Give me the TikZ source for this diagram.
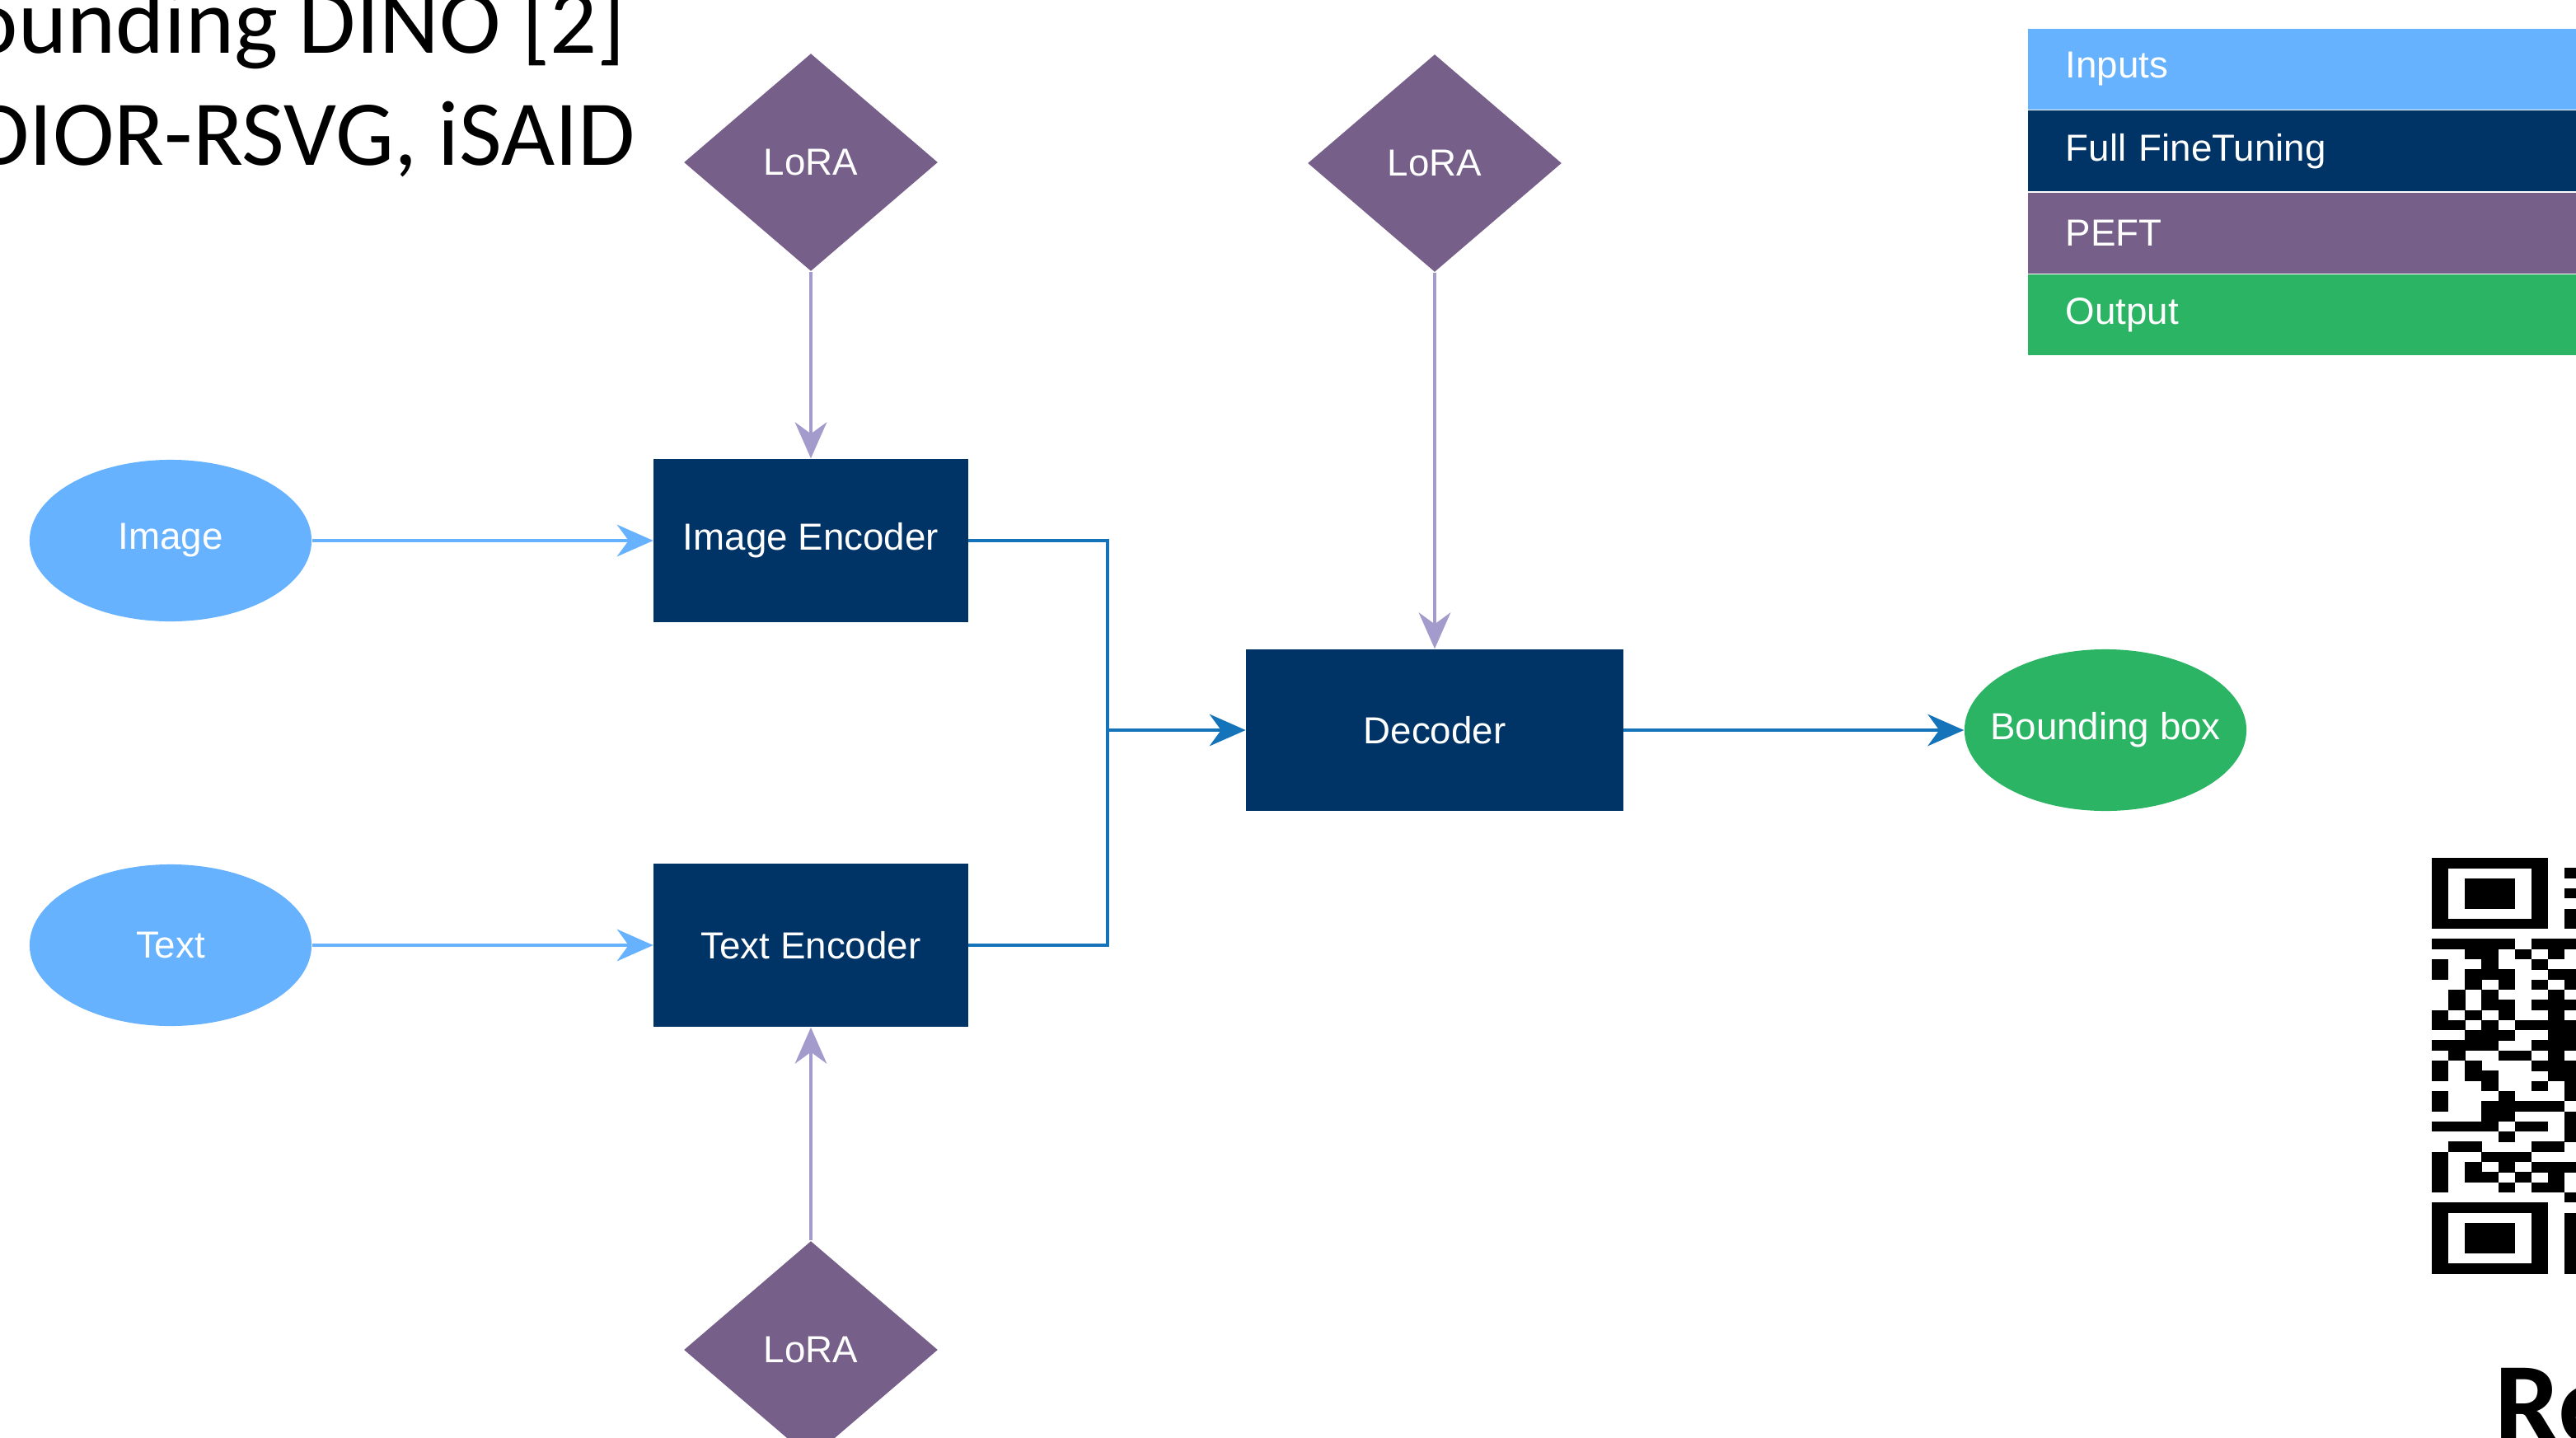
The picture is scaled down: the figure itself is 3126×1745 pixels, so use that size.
\documentclass[tikz,border=0pt]{standalone}
\usepackage{fontspec}
\setmainfont{Carlito}
\newfontfamily\diafont{Liberation Sans}
\usetikzlibrary{shapes.geometric,arrows.meta}
\definecolor{inputblue}{HTML}{66B2FF}
\definecolor{fullnavy}{HTML}{003366}
\definecolor{peftpurple}{HTML}{76608A}
\definecolor{outgreen}{HTML}{2AB463}
\definecolor{loralav}{HTML}{A39BCB}
\definecolor{flowblue}{HTML}{1573BA}
\tikzset{
	diagram/.style={font=\diafont\fontsize{13}{16}\selectfont, text=white, inner sep=0pt},
	inputnode/.style={diagram, ellipse, fill=inputblue, minimum width=3.42cm, minimum height=1.96cm},
	tunednode/.style={diagram, rectangle, fill=fullnavy, minimum width=3.81cm, minimum height=1.98cm},
	loranode/.style={diagram, diamond, fill=peftpurple, minimum width=3.08cm, minimum height=2.64cm},
	outnode/.style={diagram, ellipse, fill=outgreen, inner xsep=-0.24cm, minimum width=3.42cm, minimum height=1.96cm},
	keyrow/.style={diagram, rectangle, anchor=north west, minimum height=0.98cm, text width=6.2cm, inner xsep=0.46cm, align=left},
	inarrow/.style={draw=inputblue, line width=0.9pt, -{Stealth[length=12.5pt, width=11pt, inset=4pt]}},
	loraarrow/.style={draw=loralav, line width=0.9pt, -{Stealth[length=12.5pt, width=11pt, inset=4pt]}},
	flowline/.style={draw=flowblue, line width=0.9pt},
	flowarrow/.style={flowline, -{Stealth[length=12.5pt, width=11pt, inset=4pt]}},
	slidetext/.style={inner sep=0pt, font=\fontsize{32}{38}\selectfont},
}

\begin{document}
	\begin{tikzpicture}[x=0.01cm, y=-0.01cm]
		\useasboundingbox (0,0) rectangle (3126,1745);
		\clip (0,0) rectangle (3126,1745);

		\path (760,64) node[slidetext, anchor=base east] (titleone) {ounding DINO [2]};
		\path (titleone.base east) ++(12,136) node[slidetext, anchor=base east] (titletwo) {DIOR-RSVG, iSAID};

		\path (207,656) node[inputnode] (img) {Image};
		\path (img) ++(0,491) node[inputnode] (txt) {Text};
		\path (img) ++(777,0) node[tunednode] (imgenc) {Image Encoder};
		\path (txt) ++(777,0) node[tunednode] (txtenc) {Text Encoder};
		\path (imgenc) ++(757,230) node[tunednode, minimum width=4.57cm, minimum height=1.96cm] (dec) {Decoder};
		\path (dec) ++(814,0) node[outnode] (bbox) {Bounding box};
		\path (imgenc) ++(0,-459) node[loranode] (loraimg) {LoRA};
		\path (dec) ++(0,-688) node[loranode] (loradec) {LoRA};
		\path (txtenc) ++(0,491) node[loranode] (loratxt) {LoRA};
		\coordinate (join) at (1344,886);

		\draw [inarrow] (img) -- (imgenc);
		\draw [inarrow] (txt) -- (txtenc);
		\draw [loraarrow] (loraimg) -- (imgenc);
		\draw [loraarrow] (loradec) -- (dec);
		\draw [loraarrow] (loratxt) -- (txtenc);
		\draw [flowline] (imgenc.east) -| (join);
		\draw [flowline] (txtenc.east) -| (join);
		\draw [flowarrow] (join) -- (dec);
		\draw [flowarrow] (dec) -- (bbox);

		\path (2460,34) node[keyrow, fill=inputblue] (keyin) {Inputs};
		\path (keyin.south west) node[keyrow, fill=fullnavy] (keyfull) {Full FineTuning};
		\path (keyfull.south west) node[keyrow, fill=peftpurple] (keypeft) {PEFT};
		\path (keypeft.south west) node[keyrow, fill=outgreen] (keyout) {Output};

		\foreach \r/\cols in {0/{0,1,2,3,4,5,6}, 1/{0,6,8}, 2/{0,2,3,4,6}, 3/{0,2,3,4,6,8},
			4/{0,2,3,4,6}, 5/{0,6,8}, 6/{0,1,2,3,4,5,6,8}, 8/{0,1,2,3,4,6,7,8},
			9/{2,3,5,7}, 10/{0,3,6}, 11/{0,2,3,4,7,8}, 12/{2,4,6,8}, 13/{1,3,7},
			14/{1,3,4,6,7,8}, 15/{0,2,4,7}, 16/{0,1,3,5,6,7,8}, 17/{2,3,4,7,8},
			18/{0,1,2,3,6,7,8}, 19/{1,4,5,7}, 20/{0,2,6,7,8}, 21/{0,2,3,7,8},
			22/{3,6,8}, 23/{0,4,8}, 24/{0,3,4,5,6,7}, 25/{3,4,8}, 26/{0,1,2,3,5,6,8},
			27/{4,8}, 28/{1,2,6,7}, 29/{0,3,4,5}, 30/{0,2,4,6,7,8}, 31/{0,2,3,5,7},
			32/{0,4,6,7}, 33/{8}, 34/{0,1,2,3,4,5,6}, 35/{0,6,8}, 36/{0,2,3,4,6,8},
			37/{0,2,3,4,6,8}, 38/{0,2,3,4,6,8}, 39/{0,6,8}, 40/{0,1,2,3,4,5,6,8}}
			\foreach \c in \cols
				\fill (2951+20.14*\c,1041+12.3*\r) rectangle ++(20.4,12.5);

		\path (3027,1751) node[anchor=base west, inner sep=0pt, font=\bfseries\fontsize{40}{48}\selectfont] (reftitle) {Re};
	\end{tikzpicture}
\end{document}
